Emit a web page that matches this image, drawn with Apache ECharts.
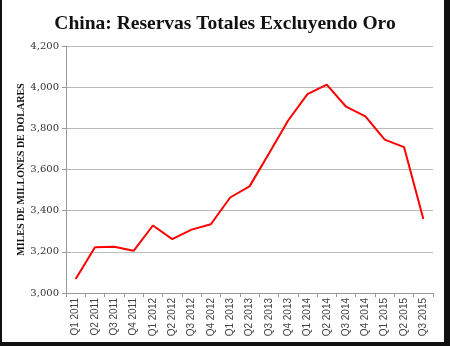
<!DOCTYPE html>
<html>
<head>
<meta charset="utf-8">
<script src="https://cdn.jsdelivr.net/npm/echarts@6/dist/echarts.min.js"></script>
<style>html,body{margin:0;padding:0;background:#fff}#c{width:450px;height:346px}</style>
</head>
<body>
<div id="c"></div>
<script>
var categories = ["Q1 2011","Q2 2011","Q3 2011","Q4 2011","Q1 2012","Q2 2012","Q3 2012","Q4 2012","Q1 2013","Q2 2013","Q3 2013","Q4 2013","Q1 2014","Q2 2014","Q3 2014","Q4 2014","Q1 2015","Q2 2015","Q3 2015"];
var reserves = [3068,3222,3225,3205,3328,3262,3308,3334,3464,3518,3676,3838,3966,4012,3905,3858,3745,3709,3360];
var yTicks = {min:3000, max:4200, interval:200};

var chart = echarts.init(document.getElementById('c'), null, {renderer:'canvas'});
chart.setOption({
  animation:false,
  backgroundColor:'#fff',
  title:{
    text:'China: Reservas Totales Excluyendo Oro',
    left:'center', top:9,
    textStyle:{fontFamily:'Liberation Serif', fontWeight:'bold', fontSize:19.5, color:'#111'}
  },
  grid:{left:66, right:17, top:46, bottom:53, containLabel:false},
  xAxis:{
    type:'category', data:categories, boundaryGap:true,
    axisLine:{lineStyle:{color:'#999'}},
    axisTick:{show:true, length:4, lineStyle:{color:'#999'}, alignWithLabel:false},
    axisLabel:{rotate:90, interval:0, fontFamily:'Liberation Sans', fontSize:10, color:'#444', margin:5}
  },
  yAxis:{
    type:'value', min:yTicks.min, max:yTicks.max, interval:yTicks.interval,
    name:'MILES DE MILLONES DE DOLARES', nameLocation:'middle', nameGap:40, nameMoveOverlap:false,
    nameTextStyle:{fontFamily:'Liberation Serif', fontWeight:'bold', fontSize:10, color:'#111'},
    axisLine:{show:true, lineStyle:{color:'#999'}},
    axisTick:{show:true, length:4, lineStyle:{color:'#999'}},
    splitLine:{lineStyle:{color:'#bbb', width:1}},
    axisLabel:{fontFamily:'DejaVu Serif', fontSize:10, color:'#333', margin:7,
      formatter:function(v){return v.toLocaleString('en-US');}}
  },
  series:[{
    type:'line', data:reserves, showSymbol:false, symbol:'none',
    lineStyle:{color:'#ff0000', width:2}
  }],
  graphic:[
    {type:'rect', left:0, top:0, shape:{width:2, height:346}, style:{fill:'#111'}},
    {type:'rect', left:444, top:0, shape:{width:6, height:346}, style:{fill:'#111'}},
    {type:'rect', left:0, top:342, shape:{width:450, height:4}, style:{fill:'#111'}}
  ]
});
</script>
</body>
</html>
